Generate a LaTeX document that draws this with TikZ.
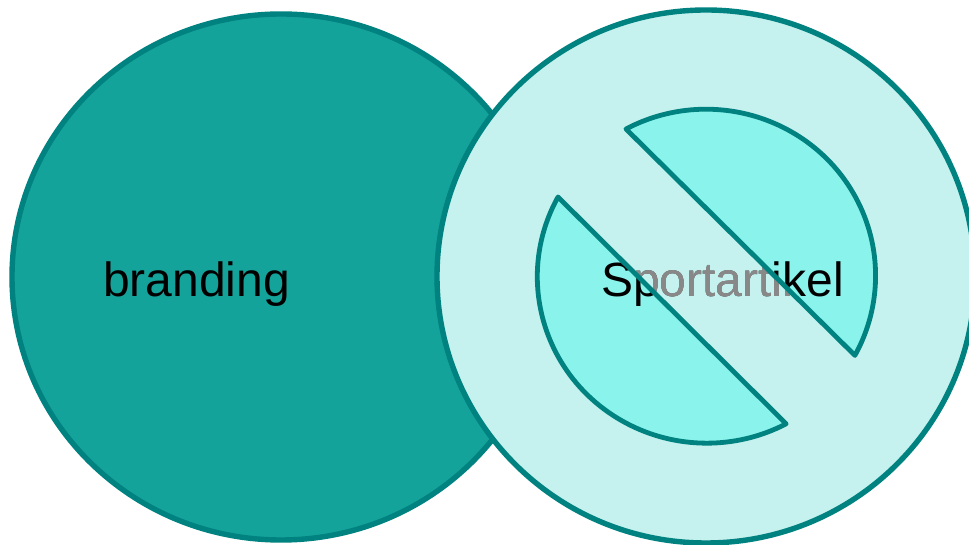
\documentclass[tikz,border=0pt]{standalone}
\usepackage{fontspec}
\setmainfont{Liberation Sans}
\definecolor{edgeteal}{HTML}{008280}
\definecolor{darkteal}{HTML}{14A39A}
\definecolor{palefill}{HTML}{C5F1EE}
\definecolor{segfill}{HTML}{8AF3EC}
\definecolor{veil}{HTML}{888888}
\tikzset{
  ring/.style={draw=edgeteal,line width=5.4pt},
  segshape/.style={draw=edgeteal,line width=4.8pt,line join=round},
  lbl/.style={anchor=base,inner sep=0pt,text=black,font=\fontsize{48pt}{50pt}\selectfont}
}
\begin{document}
\begin{tikzpicture}[x=1pt,y=1pt]
\useasboundingbox (0,0) rectangle (969,545);
\clip (0,0) rectangle (969,545);
% left disc
\path[ring,fill=darkteal] (281,268) ellipse [x radius=269,y radius=263];
\node[lbl] (branding) at (196.5,248.5) {branding};
% right disc
\path[ring,fill=palefill] (706,268.5) ellipse [x radius=269,y radius=266.5];
% prohibition fills
\fill[segfill] (626,416) arc [start angle=118.2,end angle=-28.6,x radius=169.5,y radius=166.5] -- cycle;
\fill[segfill] (558,348) arc [start angle=151.4,end angle=297.9,x radius=169.5,y radius=166.5] -- cycle;
\node[lbl] (sport) at (722.5,248) {Sportartikel};
% the bar of the sign veils the label: black text becomes grey, the pale ground stays
\begin{scope}[blend mode=lighten]
\fill[veil] (626,416) -- (855,189) -- (786,121) -- (558,348) -- cycle;
\end{scope}
% prohibition outlines
\draw[segshape] (626,416) arc [start angle=118.2,end angle=-28.6,x radius=169.5,y radius=166.5] -- cycle;
\draw[segshape] (558,348) arc [start angle=151.4,end angle=297.9,x radius=169.5,y radius=166.5] -- cycle;
\end{tikzpicture}
\end{document}
